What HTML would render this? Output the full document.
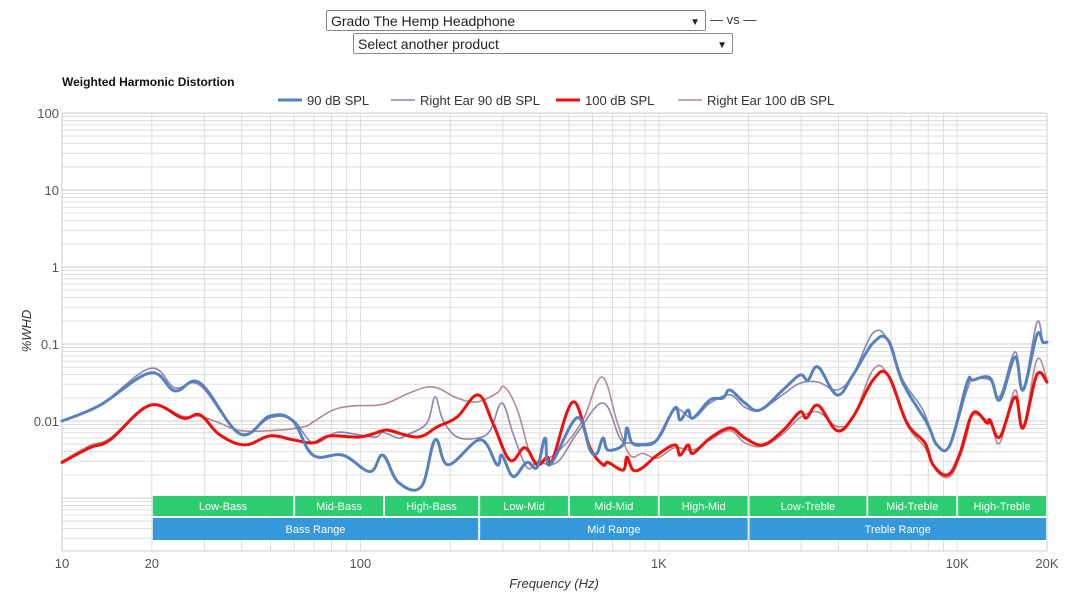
<!DOCTYPE html>
<html><head><meta charset="utf-8"><style>
body{margin:0;width:1075px;height:600px;background:#fff;font-family:"Liberation Sans",sans-serif;overflow:hidden;position:relative}
.sel{position:absolute;height:21px;border:1px solid #888;border-radius:2px;background:#fff;font-size:14px;color:#222;box-sizing:border-box;padding:1px 4px;line-height:18px}
.sel .arr{position:absolute;right:5px;top:3px;font-size:10px}
</style></head><body>
<div class="sel" style="left:326px;top:10px;width:380px">Grado The Hemp Headphone<span class="arr">&#9660;</span></div>
<div style="position:absolute;left:710px;top:12px;font-size:13px;color:#333">— vs —</div>
<div class="sel" style="left:353px;top:33px;width:380px">Select another product<span class="arr">&#9660;</span></div>
<svg id="chart" width="1075" height="600" style="position:absolute;left:0;top:0" xmlns="http://www.w3.org/2000/svg"></svg>
<script>
const blueF=[10,13.4,19.7,23.9,29,39.5,49.8,59.4,69.4,87.4,107.6,119,134,160,178,197,252,287,298,325,361,391,416,432,532,588,621,650,676,759,782,813,885,986,1132,1178,1253,1302,1486,1642,1734,1945,2183,2606,2972,3162,3420,3955,4477,5224,5861,6577,7925,8551,9462,10790,11300,12880,13900,15630,16630,18490,19360,20000];
const blueV=[.01,.016,.042,.0246,.0312,.0068,.0116,.01,.0036,.0036,.0022,.0036,.0016,.0014,.0057,.0027,.0057,.0027,.0036,.0019,.0029,.0025,.006,.0027,.011,.0042,.0038,.006,.0042,.0049,.0081,.0052,.0049,.0057,.0148,.0103,.0139,.0109,.0188,.0199,.0253,.0171,.0139,.0253,.0396,.034,.0503,.0218,.0396,.103,.113,.0312,.0094,.0049,.0049,.0312,.034,.0362,.0188,.0678,.0253,.13,.106,.106];
const purpF=[10,13.4,19.7,23.9,29,39.5,49.8,59.4,69.4,83,99,113,119,134,143,167,178,189,211,246,272,298,325,361,391,456,532,650,741,800,986,1132,1302,1486,1734,1945,2183,2606,2972,3420,3955,4477,5224,5861,6577,7674,8551,9462,10790,11300,12880,13900,15630,16630,18490,19360,20000];
const purpV=[.01,.016,.048,.027,.029,.0068,.011,.0103,.0052,.0071,.0066,.0062,.0071,.006,.0066,.0094,.0205,.0103,.0062,.006,.0075,.0171,.0068,.0025,.0029,.0029,.0069,.0171,.006,.0052,.0057,.014,.0109,.0171,.0218,.015,.0139,.022,.031,.032,.0253,.04,.139,.113,.034,.0139,.0049,.0049,.025,.034,.034,.021,.079,.0253,.187,.11,.106];
const redF=[10,12.4,14.5,19.7,25.4,29,33.8,41,49.8,59.4,69.4,79,99.6,119,126,156,181,211,248,278,317,356,391,422,440,516,588,650,676,759,782,820,885,986,1132,1178,1253,1302,1486,1734,1945,2234,2606,2972,3125,3420,3955,4477,5224,5861,6788,7798,8298,9312,10210,11300,12590,12880,13900,15630,16630,18490,20000];
const redV=[.0029,.0045,.0057,.016,.0109,.012,.0066,.0049,.0064,.0057,.0052,.0064,.0062,.0075,.0075,.0062,.0084,.0113,.0218,.0094,.0031,.0045,.0027,.0034,.0031,.0177,.0045,.0027,.0029,.0023,.0034,.0023,.0025,.0036,.0049,.0036,.0049,.0038,.006,.0081,.006,.0049,.0075,.0131,.0109,.016,.0075,.0113,.034,.0396,.0094,.0052,.0027,.002,.0038,.0127,.0094,.0103,.0062,.0205,.0081,.0396,.032];
const brownF=[10,12.4,14.5,19.7,25.4,29,33.8,39.5,51,64.4,69.4,81,94.5,113,126,146,175,211,246,287,304,336,370,398,466,557,645,727,800,885,986,1132,1302,1486,1734,1945,2234,2606,2972,3420,3955,4477,5224,5861,6788,7798,8551,9462,10210,10790,11300,12880,13900,15630,16630,18490,20000];
const brownV=[.003,.0048,.006,.016,.0115,.0115,.0094,.0075,.0075,.0084,.0097,.0139,.0157,.016,.0177,.0231,.0277,.0199,.0177,.0231,.0277,.0139,.0038,.003,.0042,.0103,.0372,.0094,.0036,.0038,.0033,.0045,.0042,.0057,.0075,.0052,.0047,.0068,.011,.0131,.0085,.011,.046,.04,.009,.0045,.0022,.0019,.0034,.0066,.012,.0094,.0052,.0253,.0081,.062,.034];
const yTicks=[100,10,1,0.1,0.01];
const xTicks=[10,20,100,1000,10000,20000];
const xTickLabels=["10","20","100","1K","10K","20K"];
const bandNames=["Low-Bass","Mid-Bass","High-Bass","Low-Mid","Mid-Mid","High-Mid","Low-Treble","Mid-Treble","High-Treble"];
const bandEdges=[20,60,120,250,500,1000,2000,5000,10000,20000];
const rangeNames=["Bass Range","Mid Range","Treble Range"];
const rangeEdges=[20,250,2000,20000];

const NS="http://www.w3.org/2000/svg",svg=document.getElementById('chart');
const X0=62,X1=1047,Y0=113,YB=551,DEC=77;
const xs=f=>X0+(Math.log10(f)-1)/Math.log10(2000)*(X1-X0);
const ys=v=>Y0+(2-Math.log10(v))*DEC;
function mk(t,a,p){const e=document.createElementNS(NS,t);for(const k in a)e.setAttribute(k,a[k]);(p||svg).appendChild(e);return e;}
const grid=mk('g',{});


for(let d=2;d>=-4;d--){for(let m=1;m<10;m++){const v=m*Math.pow(10,d);const y=ys(v);if(y<Y0-0.5||y>YB)continue;mk('line',{x1:X0,x2:X1,y1:y,y2:y,stroke:m==1?'#ccc':'#ddd','stroke-width':1},grid);}}
for(let d=1;d<=4;d++){for(let m=1;m<10;m++){const f=m*Math.pow(10,d);if(f>20000)continue;const x=xs(f);mk('line',{x1:x,x2:x,y1:Y0,y2:YB,stroke:'#ddd','stroke-width':1},grid);}}
mk('line',{x1:X0,x2:X0,y1:Y0,y2:YB,stroke:'#ccc'},grid);
mk('line',{x1:X1,x2:X1,y1:Y0,y2:YB,stroke:'#ccc'},grid);
mk('line',{x1:X0,x2:X1,y1:YB,y2:YB,stroke:'#ccc'},grid);
yTicks.forEach(v=>{const t=mk('text',{x:59,y:ys(v)+5,'text-anchor':'end','font-size':13,fill:'#555'});t.textContent=String(v);

});
xTicks.forEach((f,i)=>{const t=mk('text',{x:xs(f),y:568,'text-anchor':'middle','font-size':13,fill:'#555'});t.textContent=xTickLabels[i];

});
bandNames.forEach((n,i)=>{const a=xs(bandEdges[i])+1,b=xs(bandEdges[i+1])-1;const r=mk('rect',{x:a,y:496,width:b-a,height:20,fill:'#2ecc71'});


const t=mk('text',{x:(a+b)/2,y:510,'text-anchor':'middle','font-size':11,fill:'#fff'});t.textContent=n;});
rangeNames.forEach((n,i)=>{const a=xs(rangeEdges[i])+1,b=xs(rangeEdges[i+1])-1;const r=mk('rect',{x:a,y:518,width:b-a,height:22,fill:'#3498db'});


const t=mk('text',{x:(a+b)/2,y:533,'text-anchor':'middle','font-size':11,fill:'#fff'});t.textContent=n;});
function smooth(P){let d='M'+P[0][0].toFixed(1)+','+P[0][1].toFixed(1);
for(let i=0;i<P.length-1;i++){const p0=P[i-1]||P[i],p1=P[i],p2=P[i+1],p3=P[i+2]||p2;const k=0.18;
const c1=[p1[0]+(p2[0]-p0[0])*k,p1[1]+(p2[1]-p0[1])*k],c2=[p2[0]-(p3[0]-p1[0])*k,p2[1]-(p3[1]-p1[1])*k];
d+=' C'+c1[0].toFixed(1)+','+c1[1].toFixed(1)+' '+c2[0].toFixed(1)+','+c2[1].toFixed(1)+' '+p2[0].toFixed(1)+','+p2[1].toFixed(1);}
return d;}
function series(F,V,color,w,name){const P=F.map((f,i)=>[xs(f),ys(V[i])]);
const p=mk('path',{d:smooth(P),fill:'none',stroke:color,'stroke-width':w,'stroke-linejoin':'round','stroke-linecap':'round'});

}
series(brownF,brownV,'#b08a8e',1.6,'right-ear-100db-line');
series(purpF,purpV,'#8a84b6',1.6,'right-ear-90db-line');
series(redF,redV,'#f20d0d',3,'100db-line');
series(blueF,blueV,'#5581bd',3,'90db-line');
let t=mk('text',{x:62,y:86,'font-size':12,'font-weight':'bold',fill:'#111'});t.textContent='Weighted Harmonic Distortion';


t=mk('text',{x:0,y:0,'font-size':13,'font-style':'italic',fill:'#333','text-anchor':'middle',transform:'translate(31,331) rotate(-90)'});t.textContent='%WHD';


t=mk('text',{x:554,y:588,'font-size':13,'font-style':'italic',fill:'#333','text-anchor':'middle'});t.textContent='Frequency (Hz)';


const leg=[[278,'90 dB SPL','#5581bd',3],[391,'Right Ear 90 dB SPL','#8a84b6',1.6],[556,'100 dB SPL','#f20d0d',3],[678,'Right Ear 100 dB SPL','#b08a8e',1.6]];
leg.forEach(l=>{const g=mk('g',{});


mk('line',{x1:l[0],x2:l[0]+24,y1:100,y2:100,stroke:l[2],'stroke-width':l[3]},g);
const tt=mk('text',{x:l[0]+29,y:105,'font-size':13,fill:'#333'},g);tt.textContent=l[1];});
</script>
</body></html>
